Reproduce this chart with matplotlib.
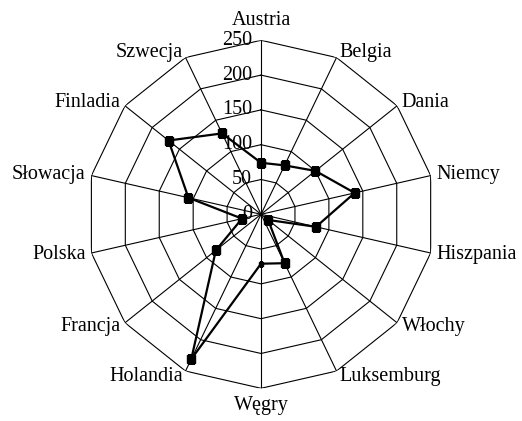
import matplotlib
matplotlib.use('Agg')
import matplotlib.pyplot as plt
import matplotlib.transforms as mtransforms
import numpy as np

plt.rcParams['font.family'] = ['Liberation Serif', 'DejaVu Serif']

countries = ['Austria', 'Belgia', 'Dania', 'Niemcy', 'Hiszpania', 'Włochy', 'Luksemburg',
             'Węgry', 'Holandia', 'Francja', 'Polska', 'Słowacja', 'Finladia', 'Szwecja']
values = [74, 78, 100, 138, 81, 13, 78, 71, 231, 83, 28, 107, 170, 129]
rings = [50, 100, 150, 200, 250]
ring_labels = ['0', '50', '100', '150', '200', '250']

n = len(countries)
angles = np.arange(n) * 2 * np.pi / n
closed = np.append(angles, angles[0])

fig = plt.figure(figsize=(5.22, 4.21), dpi=100)
ax = fig.add_axes([0.1667, 0.0777, 0.6667, 0.8266], projection='polar')
ax.set_theta_zero_location('N')
ax.set_theta_direction(-1)
ax.set_ylim(0, 250)
ax.axis('off')

# polygon grid + spokes
for r in rings:
    ax.plot(closed, [r] * (n + 1), color='black', lw=0.8, zorder=1)
for a in angles:
    ax.plot([a, a], [0, rings[-1]], color='black', lw=0.8, zorder=1)

# data series (the Węgry point has only a tiny marker in the original)
big = [i for i in range(n) if countries[i] != 'Węgry']
ax.plot(closed, values + values[:1], color='black', lw=1.6, marker='s',
        markersize=5.5, markevery=big, zorder=3)
iw = countries.index('Węgry')
ax.plot([angles[iw]], [values[iw]], color='black', marker='s', markersize=2.5, zorder=3)

# radial labels, left of the top axis
tr = mtransforms.offset_copy(ax.transData, fig, x=-9, y=0, units='dots')
for i, lab in enumerate(ring_labels):
    ax.text(0, i * 50, lab, transform=tr, ha='right', va='center', fontsize=14.5, zorder=2)

# category labels
for a, name in zip(angles, countries):
    s, c = np.sin(a), np.cos(a)
    dx, dy = 6 * s, 6 * c
    if s > 0.2:
        ha = 'left'
    elif s < -0.2:
        ha = 'right'
    else:
        ha = 'center'
    va = 'center'
    if c > 0.95:
        va, dy = 'bottom', 10
    elif c < -0.95:
        va, dy = 'top', -8
    t = mtransforms.offset_copy(ax.transData, fig, x=dx, y=dy, units='dots')
    ax.text(a, rings[-1], name, transform=t, ha=ha, va=va, fontsize=14.5)

fig.savefig('out.png', dpi=100)
